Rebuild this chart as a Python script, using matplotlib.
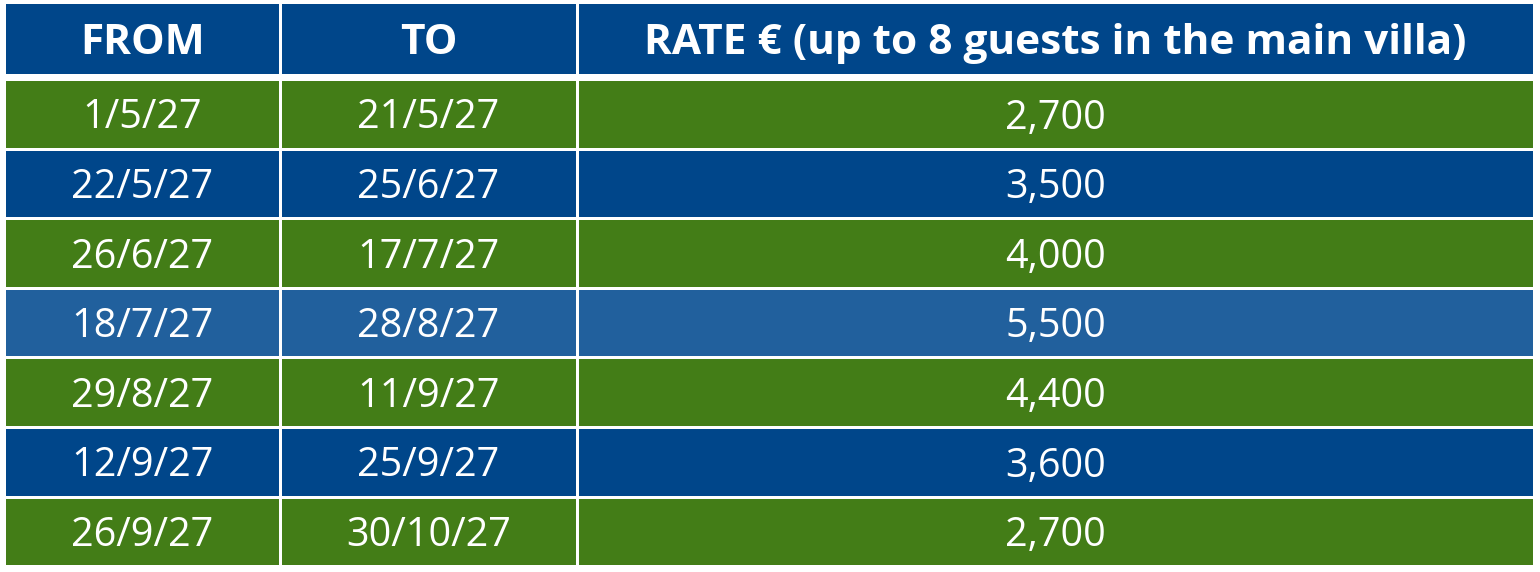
import matplotlib.pyplot as plt
from matplotlib.patches import Rectangle

# 数据
headers = ['FROM', 'TO', 'RATE € (up to 8 guests in the main villa)']
date_from = ['1/5/27', '22/5/27', '26/6/27', '18/7/27', '29/8/27', '12/9/27', '26/9/27']
date_to = ['21/5/27', '25/6/27', '17/7/27', '28/8/27', '11/9/27', '25/9/27', '30/10/27']
rates = ['2,700', '3,500', '4,000', '5,500', '4,400', '3,600', '2,700']
row_kind = ['green', 'blue', 'green', 'light', 'green', 'blue', 'green']

# 颜色
colors = {'blue': '#00468A', 'green': '#437D17', 'light': '#21609D'}

# 表格尺寸 (像素)
col_edges = [6, 280, 577, 1533]
gap = 3
header_top, header_h = 4, 70
row_top0, row_pitch, row_h = 81, 69.6, 66.5

fig = plt.figure(figsize=(15.4, 5.72), dpi=100)
ax = fig.add_axes([0, 0, 1, 1])
ax.set_xlim(0, 1540)
ax.set_ylim(572, 0)
ax.axis('off')


def cell(col, top, h, color, text, weight, size):
    x0 = col_edges[col] + (gap / 2 if col > 0 else 0)
    x1 = col_edges[col + 1] - (gap / 2 if col < 2 else 0)
    ax.add_patch(Rectangle((x0, top), x1 - x0, h, facecolor=color, edgecolor='none'))
    ax.text((x0 + x1) / 2, top + h / 2 - 1, text, ha='center', va='center_baseline',
            color='white', fontsize=size, fontweight=weight, family='Open Sans')


# 表头
for c, t in enumerate(headers):
    cell(c, header_top, header_h, colors['blue'], t, 'bold', 30.5)

# 数据行
for r in range(len(rates)):
    top = row_top0 + r * row_pitch
    col = colors[row_kind[r]]
    for c, t in enumerate([date_from[r], date_to[r], rates[r]]):
        cell(c, top, row_h, col, t, 'normal', 28.5)

plt.savefig('out.png', dpi=100, facecolor='white')
